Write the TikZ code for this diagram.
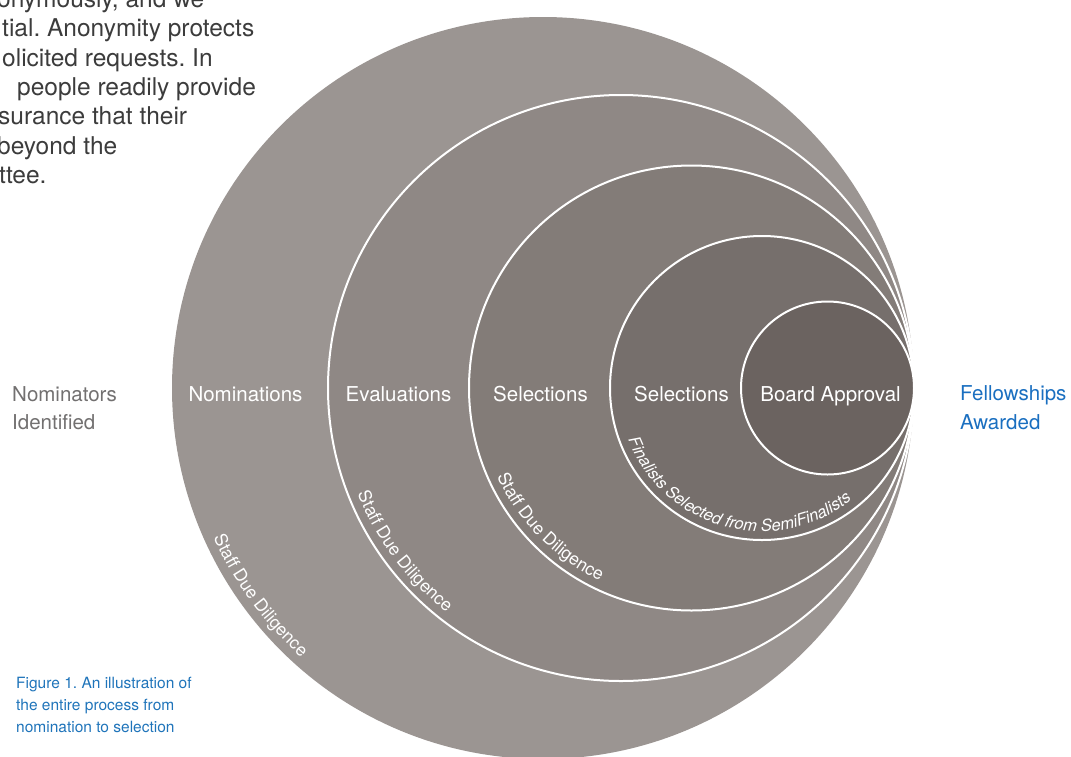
\documentclass[tikz,border=0pt]{standalone}
\usepackage{fontspec}
\setmainfont{TeX Gyre Heros}
\usetikzlibrary{decorations.text}
\frenchspacing

\definecolor{ringA}{HTML}{9B9592}
\definecolor{ringB}{HTML}{8F8885}
\definecolor{ringC}{HTML}{837C78}
\definecolor{ringD}{HTML}{766F6C}
\definecolor{ringE}{HTML}{6B6360}
\definecolor{capblue}{HTML}{1F74BA}
\definecolor{awardblue}{HTML}{1A6FC0}
\definecolor{sidegray}{HTML}{727070}
\definecolor{paragray}{HTML}{3C3C3C}

\newcommand{\curvefont}{\fontsize{17.5}{21}\selectfont}

\tikzset{
  ring/.style={draw=white, line width=2pt},
  stage/.style={text=white, font=\fontsize{20.5}{24}\selectfont, anchor=base, inner sep=0pt},
  side/.style={font=\fontsize{20.5}{24}\selectfont, anchor=base west, inner sep=0pt},
  paraline/.style={text=paragray, font=\fontsize{24.5}{29}\selectfont, anchor=base west, inner sep=0pt},
  capline/.style={text=capblue, font=\fontsize{15.5}{20}\selectfont, anchor=base west, inner sep=0pt},
  curved/.style={decorate, decoration={text along path, text align=center, text color=white, text={#1}}}
}

\begin{document}
\begin{tikzpicture}[x=1pt,y=1pt]
\useasboundingbox (0,0) rectangle (1071,-756);

\coordinate (o1) at (543,-388);
\coordinate (o2) at (621,-388);
\coordinate (o3) at (691.5,-388);
\coordinate (o4) at (762,-388);
\coordinate (o5) at (827.5,-388);

\fill[ringA] (o1) circle[radius=371];
\draw[ring, fill=ringB] (o2) circle[radius=293];
\draw[ring, fill=ringC] (o3) circle[radius=222.5];
\draw[ring, fill=ringD] (o4) circle[radius=152];
\draw[ring, fill=ringE] (o5) circle[radius=86.5];

\node[stage] (nominations) at (245.5,-401) {Nominations};
\node[stage] (evaluations) at (398.5,-401) {Evaluations};
\node[stage] (selectA) at (540.5,-401) {Selections};
\node[stage] (selectB) at (681.5,-401) {Selections};
\node[stage] (board) at (830.5,-401) {Board Approval};

\node[side, text=sidegray] (nomA) at (12,-401) {Nominators};
\node[side, text=sidegray] (nomB) at (12,-429) {Identified};
\node[side, text=awardblue] (awardA) at (960,-400) {Fellowships};
\node[side, text=awardblue] (awardB) at (960,-429) {Awarded};

\path[curved={|\curvefont|Staff Due Diligence}] (o1) ++(180:362) arc[start angle=180, end angle=252.5, radius=362];
\path[curved={|\curvefont|Staff Due Diligence}] (o2) ++(177:284) arc[start angle=177, end angle=257, radius=284];
\path[curved={|\curvefont|Staff Due Diligence}] (o3) ++(184:213.5) arc[start angle=184, end angle=265, radius=213.5];
\path[curved={|\fontsize{16.5}{20}\selectfont\itshape|Finalists Selected from SemiFinalists}] (o4) ++(195:143.5) arc[start angle=195, end angle=315, radius=143.5];

\node[paraline] (par0) at (-3,-7) {onymously, and we};
\node[paraline] (par1) at (2,-36.5) {tial. Anonymity protects};
\node[paraline] (par2) at (2,-66) {olicited requests. In};
\node[paraline] (par3) at (17,-95) {people readily provide};
\node[paraline] (par4) at (-2,-124.5) {surance that their};
\node[paraline] (par5) at (-3,-154) {beyond the};
\node[paraline] (par6) at (-1,-183) {ttee.};

\node[capline] (cap1) at (16,-688) {Figure 1. An illustration of};
\node[capline] (cap2) at (16,-710) {the entire process from};
\node[capline] (cap3) at (16,-732) {nomination to selection};
\end{tikzpicture}
\end{document}
